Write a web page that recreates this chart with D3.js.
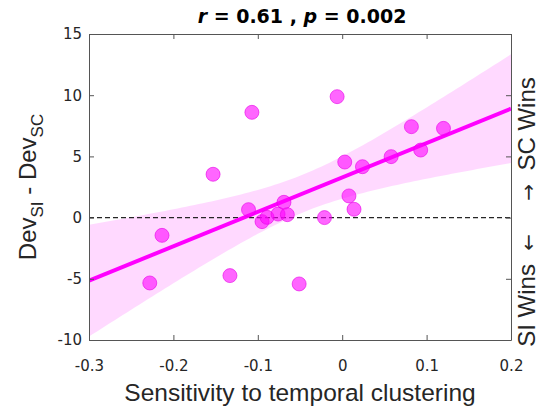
<!DOCTYPE html>
<html>
<head>
<meta charset="utf-8">
<script src="https://cdn.jsdelivr.net/npm/d3@7"></script>
<style>
  body { margin: 0; background: #fff; }
  text { fill: #262626; }
</style>
</head>
<body>
<div id="vis"></div>
<script>
const FRAME_WIDTH = 544;
const FRAME_HEIGHT = 410;
const MARGINS = {left: 89, right: 33, top: 34, bottom: 70};
const VIS_WIDTH = FRAME_WIDTH - MARGINS.left - MARGINS.right;
const VIS_HEIGHT = FRAME_HEIGHT - MARGINS.top - MARGINS.bottom;

// sensitivity to temporal clustering (x) and Dev_SI - Dev_SC (y)
const sensitivity = [-0.228, -0.2135, -0.153, -0.133, -0.111, -0.107, -0.095, -0.089, -0.076, -0.069, -0.065,
                     -0.051, -0.021, -0.006, 0.003, 0.008, 0.014, 0.024, 0.058, 0.082, 0.093, 0.120];
const devDiff = [-5.34, -1.45, 3.54, -4.74, 0.65, 8.60, -0.33, 0.02, 0.29, 1.25, 0.24,
                 -5.42, 0.00, 9.88, 4.54, 1.77, 0.68, 4.16, 4.98, 7.43, 5.52, 7.29];

const xTicks = [-0.3, -0.2, -0.1, 0, 0.1, 0.2];
const yTicks = [-10, -5, 0, 5, 10, 15];

const MAGENTA = '#ff00ff';

const FRAME = d3.select('#vis')
  .append('svg')
    .attr('width', FRAME_WIDTH)
    .attr('height', FRAME_HEIGHT);

const G = FRAME.append('g')
  .attr('transform', 'translate(' + MARGINS.left + ',' + MARGINS.top + ')');

const X_SCALE = d3.scaleLinear().domain([-0.3, 0.2]).range([0, VIS_WIDTH]);
const Y_SCALE = d3.scaleLinear().domain([-10, 15]).range([VIS_HEIGHT, 0]);

// least squares fit + 95% confidence band of the mean
const n = sensitivity.length;
const mx = d3.mean(sensitivity), my = d3.mean(devDiff);
let sxx = 0, sxy = 0;
for (let i = 0; i < n; i++) {
  sxx += (sensitivity[i] - mx) ** 2;
  sxy += (sensitivity[i] - mx) * (devDiff[i] - my);
}
const slope = sxy / sxx;
const intercept = my - slope * mx;
let sse = 0;
for (let i = 0; i < n; i++) sse += (devDiff[i] - (intercept + slope * sensitivity[i])) ** 2;
const s = Math.sqrt(sse / (n - 2));
const tCrit = 2.086; // df = 20

const band = d3.range(0, 101).map((k) => {
  const x = -0.3 + 0.5 * k / 100;
  const yhat = intercept + slope * x;
  const h = tCrit * s * Math.sqrt(1 / n + (x - mx) ** 2 / sxx);
  return {x: x, lo: yhat - h, hi: yhat + h};
});

G.append('defs').append('clipPath').attr('id', 'clip')
  .append('rect').attr('width', VIS_WIDTH).attr('height', VIS_HEIGHT);

const plot = G.append('g').attr('clip-path', 'url(#clip)');

plot.append('path')
  .datum(band)
  .attr('d', d3.area()
    .x((d) => X_SCALE(d.x))
    .y0((d) => Y_SCALE(d.lo))
    .y1((d) => Y_SCALE(d.hi)))
  .attr('fill', MAGENTA)
  .attr('fill-opacity', 0.15);

plot.append('line')
  .attr('x1', 0).attr('x2', VIS_WIDTH)
  .attr('y1', Y_SCALE(0)).attr('y2', Y_SCALE(0))
  .attr('stroke', '#262626')
  .attr('stroke-width', 1.3)
  .attr('stroke-dasharray', '5,3');

plot.append('line')
  .attr('x1', X_SCALE(-0.3)).attr('x2', X_SCALE(0.2))
  .attr('y1', Y_SCALE(intercept + slope * -0.3))
  .attr('y2', Y_SCALE(intercept + slope * 0.2))
  .attr('stroke', MAGENTA)
  .attr('stroke-width', 4);

plot.selectAll('.pt')
  .data(sensitivity)
  .enter()
  .append('circle')
    .attr('class', 'pt')
    .attr('cx', (d) => X_SCALE(d))
    .attr('cy', (d, i) => Y_SCALE(devDiff[i]))
    .attr('r', 7)
    .attr('fill', MAGENTA)
    .attr('fill-opacity', 0.6)
    .attr('stroke', '#e600e6')
    .attr('stroke-opacity', 0.6)
    .attr('stroke-width', 1);

// axes (box with inward ticks)
const tickFont = '"DejaVu Sans", sans-serif';
const fmt = (d) => d === 0 ? '0' : String(d).replace('\u2212', '-');

const xAxis = G.append('g')
  .attr('transform', 'translate(0,' + VIS_HEIGHT + ')')
  .call(d3.axisBottom(X_SCALE).tickValues(xTicks).tickSizeInner(-5).tickSizeOuter(0).tickPadding(20)
    .tickFormat(fmt));
const yAxis = G.append('g')
  .call(d3.axisLeft(Y_SCALE).tickValues(yTicks).tickSizeInner(-5).tickSizeOuter(0).tickPadding(7)
    .tickFormat(fmt));
const xTop = G.append('g')
  .call(d3.axisTop(X_SCALE).tickValues(xTicks).tickSizeInner(-5).tickSizeOuter(0).tickFormat(''));
const yRight = G.append('g')
  .attr('transform', 'translate(' + VIS_WIDTH + ',0)')
  .call(d3.axisRight(Y_SCALE).tickValues(yTicks).tickSizeInner(-5).tickSizeOuter(0).tickFormat(''));

[xAxis, yAxis, xTop, yRight].forEach((a) => {
  a.selectAll('path, line').attr('stroke', '#555');
  a.selectAll('text').attr('fill', '#262626').attr('font-family', tickFont).attr('font-size', '15px');
});

// titles
const title = FRAME.append('text')
  .attr('x', MARGINS.left + VIS_WIDTH / 2 + 2)
  .attr('y', 23)
  .attr('text-anchor', 'middle')
  .attr('font-family', '"DejaVu Sans", sans-serif')
  .attr('font-weight', 'bold')
  .attr('font-size', '19px')
  .style('fill', '#000');
title.append('tspan').attr('font-style', 'italic').text('r');
title.append('tspan').text(' = 0.61 , ');
title.append('tspan').attr('font-style', 'italic').text('p');
title.append('tspan').text(' = 0.002');

FRAME.append('text')
  .attr('x', MARGINS.left + VIS_WIDTH / 2)
  .attr('y', 401)
  .attr('text-anchor', 'middle')
  .attr('font-family', '"Liberation Sans", Arial, sans-serif')
  .attr('font-size', '24.5px')
  .text('Sensitivity to temporal clustering');

const ylab = FRAME.append('text')
  .attr('transform', 'translate(36,' + (MARGINS.top + VIS_HEIGHT / 2) + ') rotate(-90)')
  .attr('text-anchor', 'middle')
  .attr('font-family', '"Liberation Sans", Arial, sans-serif')
  .attr('font-size', '24px');
ylab.append('tspan').text('Dev');
ylab.append('tspan').attr('dy', 7).attr('font-size', '17px').text('SI');
ylab.append('tspan').attr('dy', -7).text(' - Dev');
ylab.append('tspan').attr('dy', 7).attr('font-size', '17px').text('SC');

// side note: which model wins
const NB = '\u00a0';
const side = FRAME.append('text')
  .attr('transform', 'translate(535,212) rotate(-90)')
  .attr('text-anchor', 'middle')
  .attr('font-family', '"Liberation Sans", Arial, sans-serif')
  .attr('font-size', '24px');
side.append('tspan').text('SI Wins' + NB + NB);
side.append('tspan').attr('font-family', '"DejaVu Sans", sans-serif').attr('font-size', '20px')
  .text('\u2190');
side.append('tspan').text(NB.repeat(5));
side.append('tspan').attr('font-family', '"DejaVu Sans", sans-serif').attr('font-size', '20px')
  .text('\u2192');
side.append('tspan').text(NB + NB + 'SC Wins');
</script>
</body>
</html>
